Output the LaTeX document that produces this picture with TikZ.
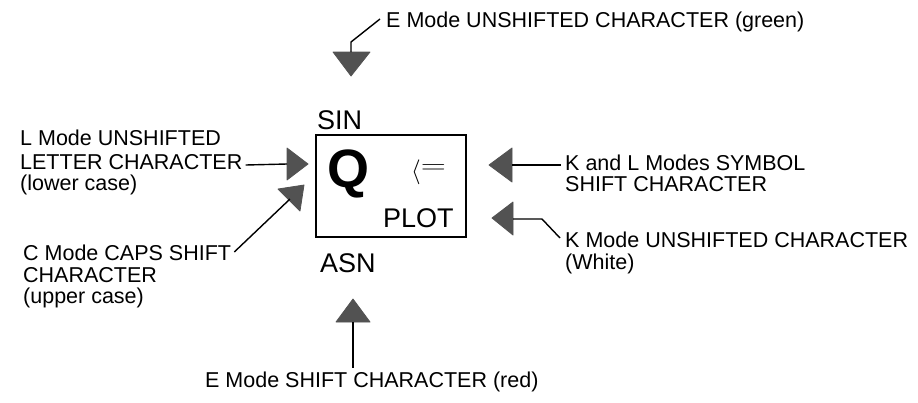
\documentclass[tikz,border=0pt]{standalone}
\usepackage{fontspec}
\setmainfont{Liberation Sans}
\usepackage{graphicx}
\usetikzlibrary{calc}
\begin{document}
\begin{tikzpicture}[x=1pt,y=-1pt,
  lbl/.style={font=\fontsize{21.5}{24}\selectfont, inner sep=0pt, anchor=base west},
  keylbl/.style={font=\fontsize{27}{30}\selectfont, inner sep=0pt, anchor=base west},
  conn/.style={line width=1.4pt, black},
  head/.style={fill=black!68, draw=black!68, line width=0.8pt, line join=round}]
\useasboundingbox (0,0) rectangle (918,402);

% key
\node[draw, line width=1.3pt, minimum width=150pt, minimum height=102pt, inner sep=0pt] (key) at (391,186) {};
\node[keylbl] (sin) at (317,129) {SIN};
\node[keylbl] (asn) at (320,272) {ASN};
\node[keylbl] (plot) at (383,227) {PLOT};
\node[font=\fontsize{54}{60}\selectfont\bfseries, inner sep=0pt, anchor=base west] (q) at (327,187) {Q};
\node[inner sep=0pt, anchor=base west, font=\fontsize{24}{28}\selectfont] (le) at (411,178) {$\langle$\raisebox{4.5pt}{\scalebox{1.4}[1]{$=$}}};

% labels
\node[lbl] (e1) at (386,27) {E Mode UNSHIFTED CHARACTER (green)};
\node[lbl] (l1) at (20,145) {L Mode UNSHIFTED};
\node[lbl] (l2) at (20,169) {LETTER CHARACTER};
\node[lbl] (l3) at (20,190.5) {(lower case)};
\node[lbl] (c1) at (23,260) {C Mode CAPS SHIFT};
\node[lbl] (c2) at (23,282) {CHARACTER};
\node[lbl] (c3) at (23,303) {(upper case)};
\node[lbl] (k1) at (565,170) {K and L Modes SYMBOL};
\node[lbl] (k2) at (565,191) {SHIFT CHARACTER};
\node[lbl] (m1) at (565,247) {K Mode UNSHIFTED CHARACTER};
\node[lbl] (m2) at (565,269) {(White)};
\node[lbl] (e2) at (205,387) {E Mode SHIFT CHARACTER (red)};

% arrow heads
\fill[head] (333,52) -- (370,52) -- (351,76) -- cycle;
\coordinate (tT) at (351,52);
\fill[head] (336,322) -- (370,322) -- (353,299) -- cycle;
\coordinate (tB) at (353,322);
\fill[head] (287,148) -- (287,180) -- (308,164) -- cycle;
\coordinate (tL1) at (287,164);
\fill[head] (278,189) -- (300,211) -- (304,185) -- cycle;
\coordinate (tL2) at (290,199);
\fill[head] (512,148) -- (512,182) -- (489,165) -- cycle;
\coordinate (tR1) at (512,165);
\fill[head] (513,202) -- (513,235) -- (492,218) -- cycle;
\coordinate (tR2) at (513,219);
\coordinate (bT) at (351,42);
\coordinate (bR2) at (542,219);

% connectors
\draw[conn] (tT) -- (bT) -- ($(e1.base west)+(-6,-8)$);
\draw[conn] (tB) -- ($(e2.base west -| tB)+(0,-19)$);
\draw[conn] ($(l2.base east)+(3,-4)$) -- (tL1);
\draw[conn] ($(c1.base east)+(3,-8)$) -- (tL2);
\draw[conn] (tR1) -- ($(k1.base west)+(-4,-5)$);
\draw[conn] (tR2) -- (bR2) -- ($(m1.base west)+(-5,-9)$);
\end{tikzpicture}
\end{document}
